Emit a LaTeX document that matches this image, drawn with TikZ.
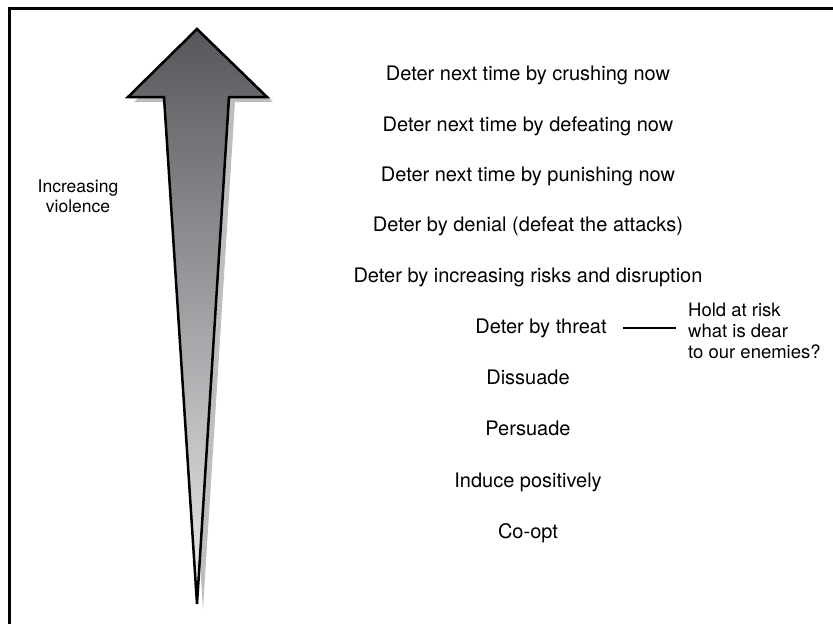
\documentclass[tikz,border=0pt]{standalone}
\usepackage{fontspec}
\setmainfont{TeX Gyre Heros}
\definecolor{arrowtop}{RGB}{86,87,91}
\definecolor{arrowbot}{RGB}{236,236,238}
\definecolor{shadowgray}{RGB}{190,190,190}
\tikzset{
  rung/.style={anchor=base, inner sep=0pt, font=\fontsize{20}{24}\selectfont},
  sidenote/.style={inner sep=0pt, font=\fontsize{17.5}{20}\selectfont},
  holdnote/.style={inner sep=0pt, font=\fontsize{18.5}{21}\selectfont},
}
\begin{document}
\begin{tikzpicture}[x=1pt,y=-1pt]
\useasboundingbox (0,0) rectangle (833,624);
% frame
\draw[line width=3pt] (9,626) -- (9,8) -- (836,8);
% arrow shadow
\fill[shadowgray] (203,34) -- (273,102) -- (235,102) -- (203,609) -- (170,102) -- (134,102) -- cycle;
% arrow
\shade[top color=arrowtop, bottom color=arrowbot, draw=black, line width=2.5pt]
  (197,29) -- (267,97) -- (229,97) -- (197,604) -- (164,97) -- (128,97) -- cycle;
% left label
\node[sidenote, anchor=base, align=center] (viol) at (78,212) {Increasing\\violence};
% rungs
\node[rung] (r1) at (528,80) {Deter next time by crushing now};
\node[rung] (r2) at (528,131) {Deter next time by defeating now};
\node[rung] (r3) at (528,181) {Deter next time by punishing now};
\node[rung] (r4) at (528,231) {Deter by denial (defeat the attacks)};
\node[rung] (r5) at (528,282) {Deter by increasing risks and disruption};
\node[rung] (r6) at (541,333) {Deter by threat};
\node[rung] (r7) at (528,384) {Dissuade};
\node[rung] (r8) at (528,435) {Persuade};
\node[rung] (r9) at (528,487) {Induce positively};
\node[rung] (r10) at (528,538) {Co-opt};
% side note
\node[holdnote, anchor=base west, align=left] (hold) at (688,358) {Hold at risk\\what is dear\\to our enemies?};
\draw[line width=2.5pt] ([xshift=16pt]r6.east) -- ([xshift=-12pt]r6.east -| hold.west);
\end{tikzpicture}
\end{document}
